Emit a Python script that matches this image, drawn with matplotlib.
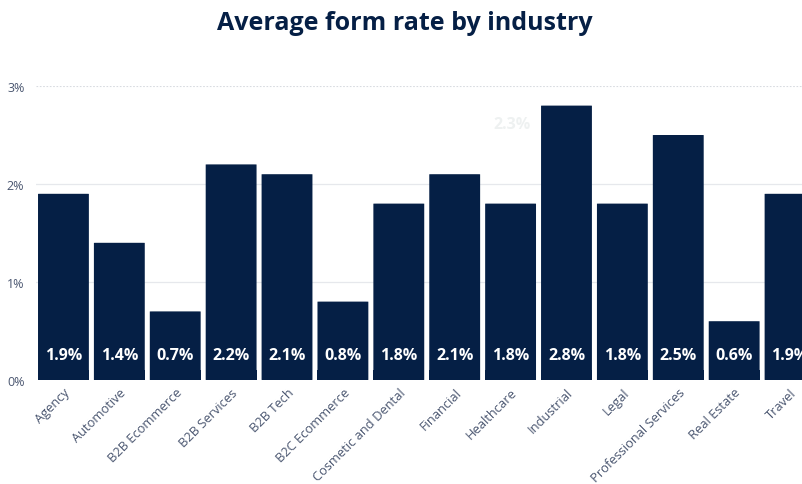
import matplotlib.pyplot as plt
from matplotlib.patches import FancyBboxPatch

industries = ["Agency", "Automotive", "B2B Ecommerce", "B2B Services", "B2B Tech",
              "B2C Ecommerce", "Cosmetic and Dental", "Financial", "Healthcare",
              "Industrial", "Legal", "Professional Services", "Real Estate", "Travel"]
form_rate = [1.9, 1.4, 0.7, 2.2, 2.1, 0.8, 1.8, 2.1, 1.8, 2.8, 1.8, 2.5, 0.6, 1.9]
y_ticks = [0, 1, 2, 3]
y_tick_labels = ["0%", "1%", "2%", "3%"]

navy = "#051f45"
label_gray = "#4a5670"

plt.rcParams['font.family'] = ['Open Sans', 'DejaVu Sans']

fig = plt.figure(figsize=(8.02, 4.85), dpi=100)
ax = fig.add_axes([35.5 / 802, 1 - 381 / 485, (818 - 35.5) / 802, (381 - 87) / 485])

width = 0.91
for i, v in enumerate(form_rate):
    patch = FancyBboxPatch((i - width / 2, 0), width, v,
                           boxstyle="round,pad=0,rounding_size=0.07",
                           mutation_aspect=0.012,
                           facecolor=navy, edgecolor="none", zorder=3)
    ax.add_patch(patch)
    # square off the bottom corners
    ax.bar(i, min(v, 0.1), width=width, color=navy, zorder=3)
    ax.text(i, 0.26, f"{v}%", ha="center", va="center", color="white",
            fontsize=11.5, fontweight="bold", zorder=4)

# faint hover residue label
ax.text(8.03, 2.61, "2.3%", ha="center", va="center", color="#eef1f1",
        fontsize=11.5, fontweight="bold", zorder=2)

ax.set_xlim(-0.5, 13.5)
ax.set_ylim(0, 3)
ax.set_yticks(y_ticks)
ax.set_yticklabels(y_tick_labels, color=label_gray, fontsize=9)
ax.set_xticks(range(len(industries)))
ax.set_xticklabels(industries, rotation=45, ha="right", rotation_mode="anchor",
                   color=label_gray, fontsize=9.3)
ax.tick_params(axis="both", length=0)
ax.tick_params(axis="y", pad=8)
ax.tick_params(axis="x", pad=4)

for y in [1, 2]:
    ax.axhline(y, color="#e6e8ec", linewidth=0.9, zorder=1)
ax.axhline(3, color="#d8dbe0", linewidth=0.8, linestyle=(0, (1.5, 1.5)), zorder=1)

for s in ax.spines.values():
    s.set_visible(False)

fig.text(0.505, 1 - 23 / 485, "Average form rate by industry", ha="center", va="center",
         fontsize=18, fontweight="bold", color=navy)

fig.savefig("out.png", dpi=100)
